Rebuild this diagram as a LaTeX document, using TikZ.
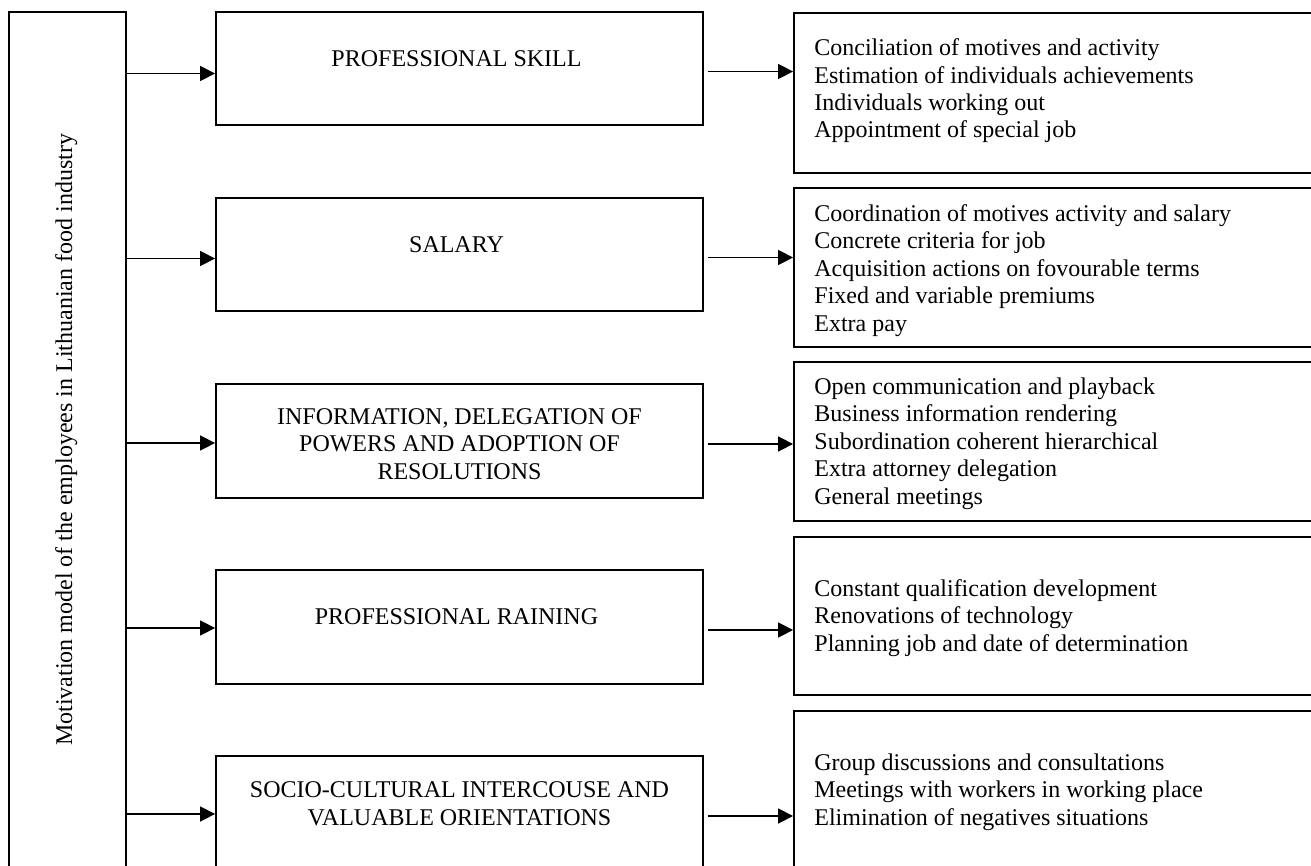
\documentclass[tikz,border=0pt]{standalone}
\usepackage{fontspec}
\setmainfont{Liberation Serif}
\usetikzlibrary{arrows.meta}
\begin{document}
\begin{tikzpicture}[x=0.5pt, y=-0.5pt,
        font=\fontsize{12}{13.7}\selectfont,
        box/.style={draw, line width=0.9pt, inner sep=0pt},
        midbox/.style={box, minimum width=243.5pt},
        listbox/.style={box, minimum width=273pt},
        title/.style={inner sep=0pt, align=center, anchor=base},
        items/.style={inner sep=0pt, align=left, anchor=base west},
        arr/.style={-{Triangle[length=7.5pt, width=7.5pt]}, line width=0.75pt}]
            \useasboundingbox (0, 0) rectangle (1311, 866);
            \clip (0, 0) rectangle (1311, 866);

            \node[box, minimum width=58.5pt, minimum height=444pt] (MODEL) at (67.5, 456) {};
            \node[rotate=90, anchor=base, inner sep=0pt] (MODELT) at (72, 440) { Motivation model of the employees in Lithuanian food industry };

            \node[midbox, minimum height=56.5pt] (SKILL) at (459.5, 68.5) {};
            \node[midbox, minimum height=56.5pt] (SALARY) at (459.5, 254.5) {};
            \node[midbox, minimum height=57pt] (INFO) at (459.5, 441) {};
            \node[midbox, minimum height=57pt] (TRAIN) at (459.5, 627) {};
            \node[midbox, minimum height=57pt] (SOCIO) at (459.5, 813) {};

            % the base of a text with several lines is its last line
            \node[title] (SKILLT) at (459.5, 67) { PROFESSIONAL SKILL };
            \node[title] (SALARYT) at (459.5, 253) { SALARY };
            \node[title] (INFOT) at (459.5, 479) { INFORMATION, DELEGATION OF\\ POWERS AND ADOPTION OF\\ RESOLUTIONS };
            \node[title] (TRAINT) at (459.5, 624) { PROFESSIONAL RAINING };
            \node[title] (SOCIOT) at (459.5, 825) { SOCIO-CULTURAL INTERCOUSE AND\\ VALUABLE ORIENTATIONS };

            \node[listbox, minimum height=80pt] (SKILLL) at (1067, 93) {};
            \node[listbox, minimum height=79.5pt] (SALARYL) at (1067, 267.5) {};
            \node[listbox, minimum height=79.5pt] (INFOL) at (1067, 441.5) {};
            \node[listbox, minimum height=79pt] (TRAINL) at (1067, 616) {};
            \node[listbox, minimum height=94.5pt] (SOCIOL) at (1067, 805.5) {};

            \node[items] (SKILLI) at (814, 138) { Conciliation of motives and activity\\ Estimation of individuals achievements\\ Individuals working out\\ Appointment of special job };
            \node[items] (SALARYI) at (814, 331) { Coordination of motives activity and salary\\ Concrete criteria for job\\ Acquisition actions on fovourable terms\\ Fixed and variable premiums\\ Extra pay };
            \node[items] (INFOI) at (814, 504) { Open communication and playback\\ Business information rendering\\ Subordination coherent hierarchical\\ Extra attorney delegation\\ General meetings };
            \node[items] (TRAINI) at (814, 651) { Constant qualification development\\ Renovations of technology\\ Planning job and date of determination };
            \node[items] (SOCIOI) at (814, 825) { Group discussions and consultations\\ Meetings with workers in working place\\ Elimination of negatives situations };

            \foreach \b/\s in {SKILL/2.5, SALARY/2, INFO/1, TRAIN/0.5, SOCIO/0.5} {
                \draw[arr] ([yshift=-\s pt]MODEL.east |- \b.west) -- ([yshift=-\s pt]\b.west);
                \draw[arr] ([xshift=2pt, yshift=-1.5pt]\b.east) -- ([yshift=-1.5pt]\b.east -| \b L.west);
            }

        \end{tikzpicture}
\end{document}
